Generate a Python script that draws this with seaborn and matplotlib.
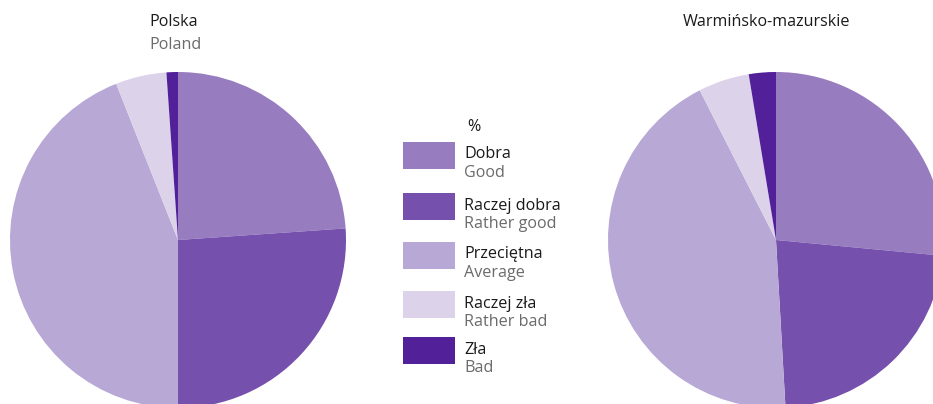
import matplotlib
matplotlib.use("Agg")
import matplotlib.pyplot as plt
from matplotlib.patches import Rectangle
import seaborn as sns

# Self-assessed health shares (%)
categories_pl = ["Dobra", "Raczej dobra", "Przeciętna", "Raczej zła", "Zła"]
categories_en = ["Good", "Rather good", "Average", "Rather bad", "Bad"]
poland = [23.9, 26.1, 44.0, 4.9, 1.1]
warminsko = [26.5, 22.6, 43.4, 4.9, 2.6]

palette = sns.color_palette(["#977cbf", "#7550ac", "#b8a8d5", "#dcd2ea", "#52219a"])

sns.set_theme(style="white")
plt.rcParams["font.family"] = ["Open Sans", "DejaVu Sans"]

W, H = 933, 404
fig = plt.figure(figsize=(W / 100, H / 100), dpi=100)
fig.patch.set_facecolor("white")


def px_axes(x0, y0, w, h):
    """Axes placed by pixel box measured from the top-left corner."""
    return fig.add_axes([x0 / W, 1 - (y0 + h) / H, w / W, h / H])


def draw_pie(ax, values):
    ax.pie(values, colors=palette, startangle=90, counterclock=False,
           radius=1.0, wedgeprops=dict(linewidth=0))
    ax.set_xlim(-1, 1)
    ax.set_ylim(-1, 1)
    ax.set_aspect("equal")
    ax.axis("off")


R = 168
ax_left = px_axes(178 - R, 240 - R, 2 * R, 2 * R)
draw_pie(ax_left, poland)
ax_right = px_axes(776 - R, 240 - R, 2 * R, 2 * R)
draw_pie(ax_right, warminsko)

# Overlay in pixel coordinates for titles and legend
over = fig.add_axes([0, 0, 1, 1])
over.set_xlim(0, W)
over.set_ylim(H, 0)
over.axis("off")

fs = 11.6
dark = "#1a1a1a"
grey = "#6b6b6b"

over.text(149, 26.5, "Polska", fontsize=fs, color=dark, ha="left", va="baseline")
over.text(149, 49, "Poland", fontsize=fs, color=grey, ha="left", va="baseline")
over.text(766.5, 26.5, "Warmińsko-mazurskie", fontsize=fs, color=dark, ha="center", va="baseline")

over.text(467, 131, "%", fontsize=fs, color=dark, ha="left", va="baseline")

swatch_tops = [142, 193, 242, 291, 337]
for i, (pl, en) in enumerate(zip(categories_pl, categories_en)):
    top = swatch_tops[i]
    over.add_patch(Rectangle((403, top), 52, 27, facecolor=palette[i], edgecolor="none"))
    over.text(464, top + 16.5, pl, fontsize=fs, color=dark, ha="left", va="baseline")
    over.text(464, top + 35, en, fontsize=fs, color=grey, ha="left", va="baseline")

fig.savefig("out.png", dpi=100, facecolor="white")
